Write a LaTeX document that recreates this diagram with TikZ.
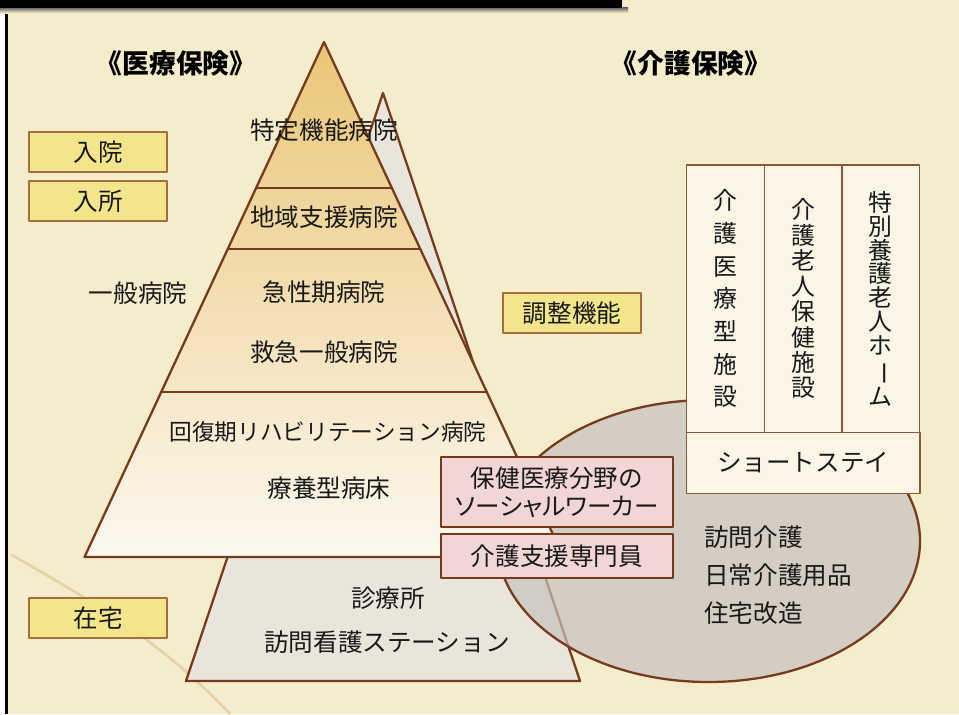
\documentclass[tikz,border=0pt]{standalone}
\usepackage{fontspec}
\setmainfont{Noto Sans CJK JP}
\usepackage{graphicx}
\usetikzlibrary{positioning,calc}

\definecolor{paper}{RGB}{245,236,204}
\definecolor{stain}{RGB}{200,160,90}
\definecolor{edgebrown}{RGB}{118,58,28}
\definecolor{tagfill}{RGB}{242,229,140}
\definecolor{tagline}{RGB}{165,110,60}
\definecolor{pinkfill}{RGB}{242,214,214}
\definecolor{cellfill}{RGB}{251,245,230}
\definecolor{backtri}{RGB}{234,229,219}
\definecolor{ovalfill}{RGB}{198,194,190}
\definecolor{pyrtop}{RGB}{234,197,118}
\definecolor{pyrmid}{RGB}{243,224,172}
\definecolor{pyrbot}{RGB}{252,248,240}
\definecolor{ink}{RGB}{25,25,25}

\tikzset{
  lbl/.style={inner sep=0pt, text=ink, font=\fontsize{14}{16}\selectfont},
  heading/.style={inner sep=0pt, text=black, font=\bfseries\fontsize{15.2}{17}\selectfont},
  tagbox/.style={lbl, draw=tagline, fill=tagfill, line width=0.9pt, minimum width=2.76cm, minimum height=0.79cm},
  pinkbox/.style={lbl, draw=edgebrown, fill=pinkfill, line width=1.3pt, minimum width=4.63cm, align=center},
  cell/.style={lbl, draw=edgebrown!85, fill=cellfill, line width=0.8pt, outer sep=0pt, align=center},
}

\begin{document}
\begin{tikzpicture}[x=0.02cm,y=-0.02cm,line join=round]
  \useasboundingbox (0,0) rectangle (959,714);
  % paper and frame
  \fill[paper] (0,0) rectangle (959,714);
  \draw[stain!70!brown,opacity=0.3,line width=1.5pt,line cap=round] (12,555) .. controls (90,600) and (160,640) .. (230,714);
  \fill[white] (0,0) rectangle (5,714);
  \fill[black] (5,0) rectangle (8,714);
  \shade[top color=black!60,bottom color=paper] (0,7.5) rectangle (628,13);
  \fill[black] (0,0) rectangle (622,7.5);

  % back triangle
  \coordinate (b) at (383,93);
  \filldraw[fill=backtri,draw=edgebrown,line width=1.3pt] (b) -- (580,681) -- (186,681) -- cycle;

  % care area
  \filldraw[fill=ovalfill,fill opacity=0.7,draw=edgebrown,line width=1.3pt]
    (708.5,541) ellipse [x radius=211.5,y radius=141];

  % the pyramid
  \coordinate (a) at (324,42);
  \coordinate (l) at (84.5,557);
  \coordinate (r) at (563.5,557);
  \path[draw=edgebrown,line width=1.3pt,top color=pyrtop,middle color=pyrmid,bottom color=pyrbot]
    (a) -- (r) -- (l) -- cycle;
  \foreach \t in {0.283,0.402,0.679}
    \draw[edgebrown,line width=1.3pt] ($(a)!\t!(l)$) -- ($(a)!\t!(r)$);

  \node[heading] (iryo) at (176,63) {《医療保険》};
  \node[heading] (kaigo) at (691,63) {《介護保険》};

  \node[lbl] (tokutei) at (324,130) {特定機能病院};
  \node[lbl] (chiiki) at (324,217) {地域支援病院};
  \node[lbl] (kyusei) at (324,292) {急性期病院};
  \node[lbl] (kyukyu) at (324,352) {救急一般病院};
  \node[lbl] (ippan) at (138,293) {一般病院};
  \node[lbl,font=\fontsize{12.9}{15}\selectfont] (kaifuku) at (328,432) {回復期リハビリテーション病院};
  \node[lbl] (ryoyo) at (329,488) {療養型病床};
  \node[lbl] (shinryo) at (388,598) {診療所};
  \node[lbl] (houkan) at (387,642) {訪問看護ステーション};

  \node[tagbox] (nyuin) at (98,152) {入院};
  \node[tagbox] (nyusho) at (98,201) {入所};
  \node[tagbox] (zaitaku) at (98,618) {在宅};
  \node[tagbox] (chosei) at (572,313) {調整機能};

  \node[pinkbox,minimum height=1.41cm,font=\fontsize{14}{16.1}\selectfont] (sw) at (557,492)
    {保健医療分野の\\{\addfontfeature{RawFeature=+palt}ソーシャルワーカー}};
  \node[pinkbox,minimum height=0.88cm] (cm) at (557,556) {介護支援専門員};

  % facilities
  \node[cell,minimum width=1.554cm,minimum height=5.346cm,font=\fontsize{13.6}{18.6}\selectfont] (c1) at (725.5,298.7)
    {介\\護\\医\\療\\型\\施\\設};
  \node[cell,minimum width=1.554cm,minimum height=5.346cm,font=\fontsize{13.6}{14.5}\selectfont,right=0pt of c1] (c2)
    {介\\護\\老\\人\\保\\健\\施\\設};
  \node[cell,minimum width=1.554cm,minimum height=5.346cm,font=\fontsize{13.6}{13.6}\selectfont,right=0pt of c2] (c3)
    {特\\別\\養\\護\\老\\人\\ホ\\\rotatebox[origin=c]{-90}{ー}\\ム};
  \node[cell,minimum width=4.666cm,minimum height=1.22cm,below=0pt of c2] (short) {ショートステイ};

  \node[lbl,align=left,anchor=west,font=\fontsize{14}{21.7}\selectfont] (houmon) at (704,575)
    {訪問介護\\日常介護用品\\住宅改造};
\end{tikzpicture}
\end{document}
